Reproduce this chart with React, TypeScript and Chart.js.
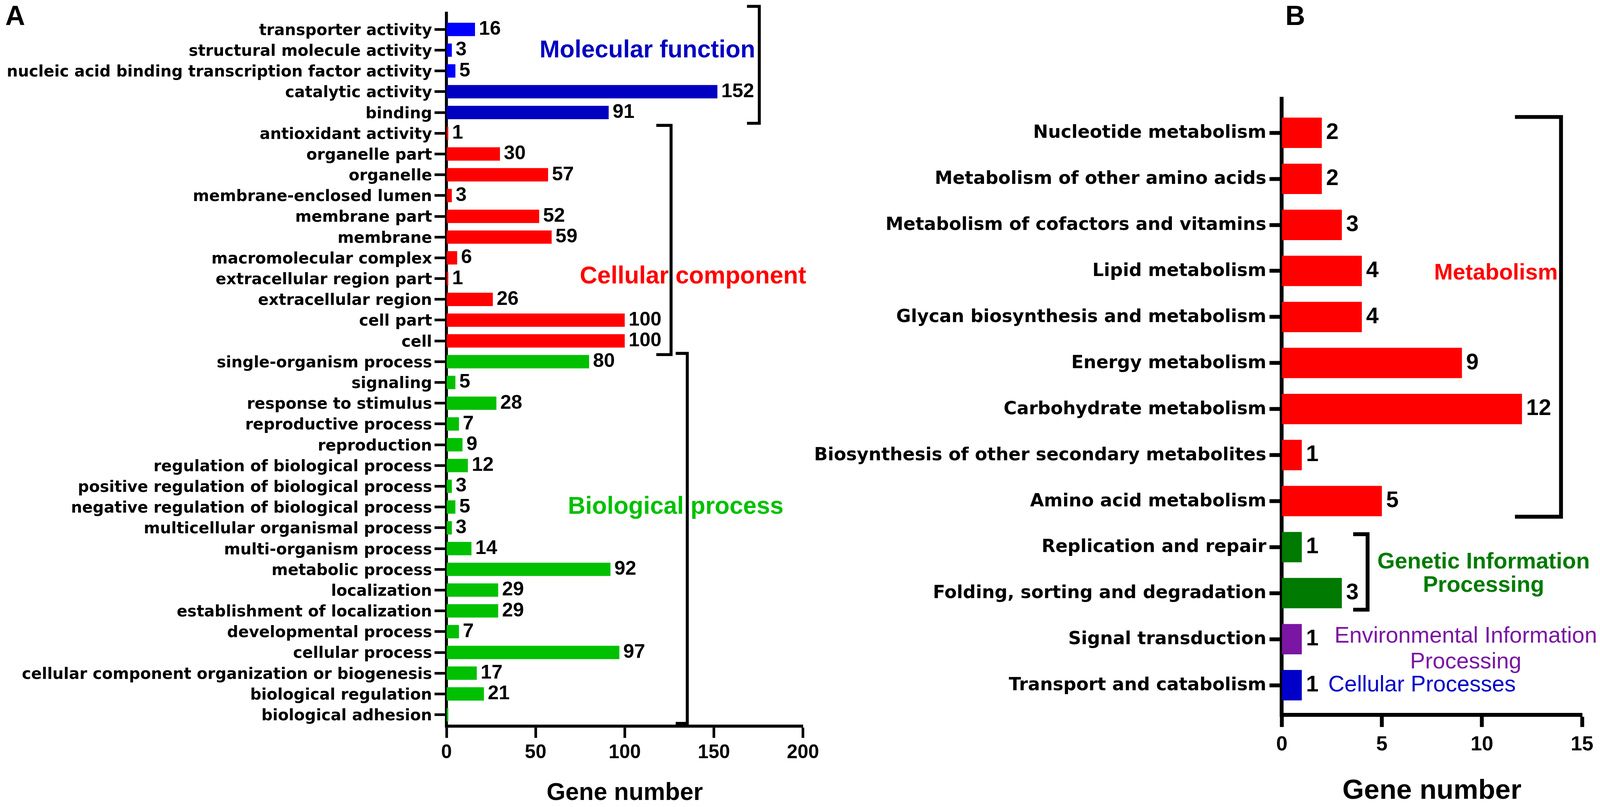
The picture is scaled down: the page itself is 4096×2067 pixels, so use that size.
import React, { useEffect, useRef } from 'react';
import { Chart, registerables } from 'chart.js';

Chart.register(...registerables);

const S = 0.9;
const W = 4096;
const H = 2067;

// ---------------- Panel A data (GO terms) ----------------
const mfCategories = [
  'transporter activity',
  'structural molecule activity',
  'nucleic acid binding transcription factor activity',
  'catalytic activity',
  'binding',
];
const mfValues = [16, 3, 5, 152, 91];

const ccCategories = [
  'antioxidant activity',
  'organelle part',
  'organelle',
  'membrane-enclosed lumen',
  'membrane part',
  'membrane',
  'macromolecular complex',
  'extracellular region part',
  'extracellular region',
  'cell part',
  'cell',
];
const ccValues = [1, 30, 57, 3, 52, 59, 6, 1, 26, 100, 100];

const bpCategories = [
  'single-organism process',
  'signaling',
  'response to stimulus',
  'reproductive process',
  'reproduction',
  'regulation of biological process',
  'positive regulation of biological process',
  'negative regulation of biological process',
  'multicellular organismal process',
  'multi-organism process',
  'metabolic process',
  'localization',
  'establishment of localization',
  'developmental process',
  'cellular process',
  'cellular component organization or biogenesis',
  'biological regulation',
  'biological adhesion',
];
const bpValues = [80, 5, 28, 7, 9, 12, 3, 5, 3, 14, 92, 29, 29, 7, 97, 17, 21, 1];

const unlabeledA = ['biological adhesion'];
const ticksA = [0, 50, 100, 150, 200];

// ---------------- Panel B data (KEGG pathways) ----------------
const metCategories = [
  'Nucleotide metabolism',
  'Metabolism of other amino acids',
  'Metabolism of cofactors and vitamins',
  'Lipid metabolism',
  'Glycan biosynthesis and metabolism',
  'Energy metabolism',
  'Carbohydrate metabolism',
  'Biosynthesis of other secondary metabolites',
  'Amino acid metabolism',
];
const metValues = [2, 2, 3, 4, 4, 9, 12, 1, 5];

const gipCategories = ['Replication and repair', 'Folding, sorting and degradation'];
const gipValues = [1, 3];

const eipCategories = ['Signal transduction'];
const eipValues = [1];

const cpCategories = ['Transport and catabolism'];
const cpValues = [1];

const unlabeledB: string[] = [];
const ticksB = [0, 5, 10, 15];

// ---------------- Styles ----------------
const COL = {
  mfLight: '#0000FF',
  mfDark: '#0000C0',
  cc: '#FF0000',
  bp: '#00C000',
  met: '#FF0000',
  gip: '#007A00',
  eip: '#7A16A3',
  cp: '#0000C8',
};

const ARIAL = '"Liberation Sans", Arial, Helvetica, sans-serif';
const DEJAVU = '"DejaVu Sans", Verdana, sans-serif';

type Bracket = { x: number; from: number; to: number; arm: number };
type Note = {
  lines: string[];
  x: number[];
  y: number[];
  align: CanvasTextAlign;
  color: string;
  weight: string;
  size: number;
};

type Panel = {
  letter: string;
  letterX: number;
  categories: string[];
  values: number[];
  colors: string[];
  unlabeled: string[];
  ticks: number[];
  axisLeft: number;
  axisRight: number;
  axisTop: number;
  axisBottom: number;
  firstRow: number;
  rowStep: number;
  barFrac: number;
  axisWidth: number;
  tickWidth: number;
  yTickLen: number;
  xTickLen: number;
  yFont: number;
  yPad: number;
  yLabelOffset: number;
  xFont: number;
  xPad: number;
  valueFont: number;
  valueGap: number;
  titleFont: number;
  titleCenterY: number;
  bracketWidth: number;
  brackets: Bracket[];
  notes: Note[];
};

const panelA: Panel = {
  letter: 'A',
  letterX: 15,
  categories: [...mfCategories, ...ccCategories, ...bpCategories],
  values: [...mfValues, ...ccValues, ...bpValues],
  colors: [
    ...mfCategories.map((_, i) => (i < 3 ? COL.mfLight : COL.mfDark)),
    ...ccCategories.map(() => COL.cc),
    ...bpCategories.map(() => COL.bp),
  ],
  unlabeled: unlabeledA,
  ticks: ticksA,
  axisLeft: 1270,
  axisRight: 2284,
  axisTop: 38,
  axisBottom: 2067,
  firstRow: 83.7,
  rowStep: 59.1,
  barFrac: 0.643,
  axisWidth: 8.5,
  tickWidth: 7.5,
  yTickLen: 34,
  xTickLen: 33,
  yFont: 44.5,
  yPad: 7,
  yLabelOffset: 4.5,
  xFont: 55,
  xPad: 10,
  valueFont: 56,
  valueGap: 11,
  titleFont: 69,
  titleCenterY: 2258,
  bracketWidth: 8.5,
  brackets: [
    { x: 175.5, from: -1.11, to: 4.52, arm: 35 },
    { x: 126.0, from: 4.62, to: 15.66, arm: 42 },
    { x: 135.1, from: 15.6, to: 33.42, arm: 33 },
  ],
  notes: [
    { lines: ['Molecular function'], x: [173.2], y: [1.02], align: 'right', color: COL.mfDark, weight: 'bold', size: 69 },
    { lines: ['Cellular component'], x: [138.3], y: [11.92], align: 'center', color: COL.cc, weight: 'bold', size: 69 },
    { lines: ['Biological process'], x: [128.6], y: [23.0], align: 'center', color: COL.bp, weight: 'bold', size: 69 },
  ],
};

const panelB: Panel = {
  letter: 'B',
  letterX: 3656,
  categories: [...metCategories, ...gipCategories, ...eipCategories, ...cpCategories],
  values: [...metValues, ...gipValues, ...eipValues, ...cpValues],
  colors: [
    ...metCategories.map(() => COL.met),
    ...gipCategories.map(() => COL.gip),
    ...eipCategories.map(() => COL.eip),
    ...cpCategories.map(() => COL.cp),
  ],
  unlabeled: unlabeledB,
  ticks: ticksB,
  axisLeft: 3646,
  axisRight: 4500,
  axisTop: 281,
  axisBottom: 2034,
  firstRow: 378,
  rowStep: 131,
  barFrac: 0.66,
  axisWidth: 11,
  tickWidth: 11,
  yTickLen: 35,
  xTickLen: 35,
  yFont: 51,
  yPad: 9,
  yLabelOffset: 1.4,
  xFont: 58,
  xPad: 16,
  valueFont: 64,
  valueGap: 12,
  titleFont: 79,
  titleCenterY: 2251,
  bracketWidth: 11,
  brackets: [
    { x: 13.95, from: -0.344, to: 8.34, arm: 131 },
    { x: 4.286, from: 8.72, to: 10.36, arm: 41 },
  ],
  notes: [
    { lines: ['Metabolism'], x: [10.7], y: [3.05], align: 'center', color: COL.met, weight: 'bold', size: 64 },
    { lines: ['Genetic Information', 'Processing'], x: [10.08, 10.08], y: [9.33, 9.84], align: 'center', color: COL.gip, weight: 'bold', size: 64 },
    { lines: ['Environmental Information', 'Processing'], x: [9.19, 9.19], y: [10.94, 11.5], align: 'center', color: COL.eip, weight: 'normal', size: 64 },
    { lines: ['Cellular Processes'], x: [2.32], y: [12.0], align: 'left', color: COL.cp, weight: 'normal', size: 64 },
  ],
};

function overlay(p: Panel) {
  return {
    id: 'overlay' + p.letter,
    afterDatasetsDraw(chart: any) {
      const ctx = chart.ctx as CanvasRenderingContext2D;
      const meta = chart.getDatasetMeta(0);
      ctx.save();
      ctx.fillStyle = '#000';
      ctx.font = `bold ${p.valueFont * S}px ${ARIAL}`;
      ctx.textAlign = 'left';
      ctx.textBaseline = 'middle';
      meta.data.forEach((bar: any, i: number) => {
        if (p.unlabeled.includes(p.categories[i])) return;
        ctx.fillText(String(p.values[i]), bar.x + p.valueGap * S, bar.y);
      });
      ctx.restore();
    },
    afterDraw(chart: any) {
      const ctx = chart.ctx as CanvasRenderingContext2D;
      const xs = chart.scales.x;
      const ys = chart.scales.y;
      ctx.save();
      ctx.strokeStyle = '#000';
      ctx.lineJoin = 'miter';
      ctx.lineCap = 'butt';
      ctx.lineWidth = p.bracketWidth * S;
      p.brackets.forEach((b) => {
        const x = xs.getPixelForValue(b.x);
        const y0 = ys.getPixelForValue(b.from);
        const y1 = ys.getPixelForValue(b.to);
        const a = b.arm * S;
        ctx.beginPath();
        ctx.moveTo(x - a, y0);
        ctx.lineTo(x, y0);
        ctx.lineTo(x, y1);
        ctx.lineTo(x - a, y1);
        ctx.stroke();
      });
      p.notes.forEach((nt) => {
        ctx.fillStyle = nt.color;
        ctx.font = `${nt.weight} ${nt.size * S}px ${ARIAL}`;
        ctx.textAlign = nt.align;
        ctx.textBaseline = 'middle';
        nt.lines.forEach((line, k) => {
          ctx.fillText(line, xs.getPixelForValue(nt.x[k]), ys.getPixelForValue(nt.y[k]));
        });
      });
      ctx.fillStyle = '#000';
      ctx.font = `bold ${78 * S}px ${ARIAL}`;
      ctx.textAlign = 'left';
      ctx.textBaseline = 'alphabetic';
      ctx.fillText(p.letter, p.letterX * S, 71.4 * S);
      ctx.restore();
    },
  };
}

function buildChart(canvas: HTMLCanvasElement, p: Panel): Chart {
  const n = p.categories.length;
  const lastRow = p.firstRow + (n - 1) * p.rowStep;
  const yMin = -(p.firstRow - p.axisTop) / p.rowStep;
  const yMax = n - 1 + (p.axisBottom - lastRow) / p.rowStep;
  const xAxisHeight = H - p.axisBottom * S;
  const titlePad = H - p.titleCenterY * S - (p.titleFont * S) / 2;

  return new Chart(canvas, {
    type: 'bar',
    data: {
      datasets: [
        {
          data: p.values.map((v, i) => ({ x: v, y: i })) as any,
          backgroundColor: p.colors,
          borderWidth: 0,
          barPercentage: p.barFrac,
          categoryPercentage: 1,
        },
      ],
    },
    options: {
      indexAxis: 'y',
      responsive: false,
      animation: false,
      events: [],
      layout: {
        padding: { left: 0, top: p.axisTop * S, right: W - p.axisRight * S, bottom: 0 },
      },
      plugins: {
        legend: { display: false },
        tooltip: { enabled: false },
        title: { display: false },
      },
      scales: {
        x: {
          type: 'linear',
          position: 'bottom',
          offset: false,
          min: p.ticks[0],
          max: p.ticks[p.ticks.length - 1],
          afterBuildTicks: (s: any) => {
            s.ticks = p.ticks.map((v) => ({ value: v }));
          },
          afterFit: (s: any) => {
            s.height = xAxisHeight;
          },
          ticks: {
            color: '#000',
            padding: p.xPad * S,
            maxRotation: 0,
            minRotation: 0,
            autoSkip: false,
            font: { family: ARIAL, weight: 'bold', size: p.xFont * S },
          },
          grid: {
            display: true,
            offset: false,
            drawOnChartArea: false,
            drawTicks: true,
            tickLength: p.xTickLen * S,
            tickWidth: p.tickWidth * S,
            tickColor: '#000',
            color: '#000',
          },
          border: { display: true, color: '#000', width: p.axisWidth * S },
          title: {
            display: true,
            text: 'Gene number',
            color: '#000',
            font: { family: ARIAL, weight: 'bold', size: p.titleFont * S, lineHeight: 1 },
            padding: { top: 0, bottom: titlePad },
          },
        },
        y: {
          type: 'linear',
          position: 'left',
          reverse: true,
          offset: false,
          min: yMin,
          max: yMax,
          afterBuildTicks: (s: any) => {
            s.ticks = p.categories.map((_, i) => ({ value: i }));
          },
          afterFit: (s: any) => {
            s.width = p.axisLeft * S;
          },
          ticks: {
            color: '#000',
            autoSkip: false,
            padding: p.yPad * S,
            labelOffset: p.yLabelOffset * S,
            font: { family: DEJAVU, weight: 'bold', size: p.yFont * S },
            callback: (v: any) => p.categories[Math.round(Number(v))] ?? '',
          },
          grid: {
            display: true,
            offset: false,
            drawOnChartArea: false,
            drawTicks: true,
            tickLength: p.yTickLen * S,
            tickWidth: p.tickWidth * S,
            tickColor: '#000',
            color: '#000',
          },
          border: { display: true, color: '#000', width: p.axisWidth * S },
        },
      },
    } as any,
    plugins: [overlay(p)],
  });
}

export default function App() {
  const refA = useRef<HTMLCanvasElement>(null);
  const refB = useRef<HTMLCanvasElement>(null);

  useEffect(() => {
    if (!refA.current || !refB.current) return;
    const a = buildChart(refA.current, panelA);
    const b = buildChart(refB.current, panelB);
    return () => {
      a.destroy();
      b.destroy();
    };
  }, []);

  const cstyle: React.CSSProperties = { position: 'absolute', left: 0, top: 0, width: W, height: H };

  return (
    <div
      style={{
        position: 'absolute',
        left: 0,
        top: 0,
        width: W,
        height: H,
        background: '#fff',
        overflow: 'hidden',
      }}
    >
      <canvas ref={refA} width={W} height={H} style={cstyle} />
      <canvas ref={refB} width={W} height={H} style={cstyle} />
    </div>
  );
}
